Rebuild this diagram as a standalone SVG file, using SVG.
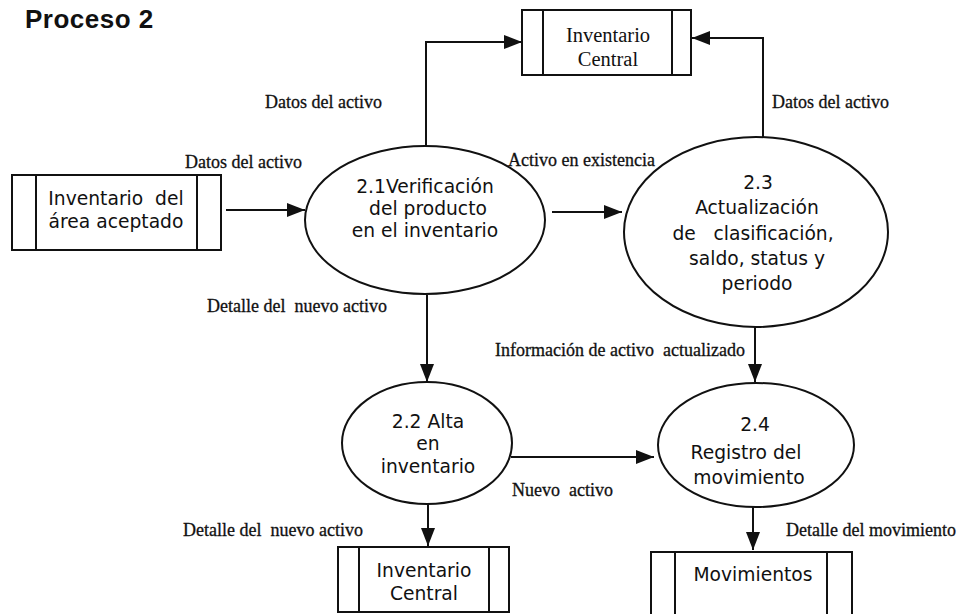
<svg xmlns="http://www.w3.org/2000/svg" width="962" height="614" viewBox="0 0 962 614">
<style>
.shape{fill:none;stroke:#111;stroke-width:2}
.conn{fill:none;stroke:#111;stroke-width:2}
.lbl{font-family:"Liberation Serif","Times New Roman",serif;font-size:18px;fill:#111;stroke:#111;stroke-width:0.3}
.node{font-family:"DejaVu Sans","Open Sans",sans-serif;font-size:18.7px;fill:#111;text-anchor:middle}
.store{font-family:"Liberation Serif","Times New Roman",serif;font-size:20.5px;fill:#111;text-anchor:middle}
.title{font-family:"Liberation Sans",Arial,sans-serif;font-size:26px;font-weight:bold;fill:#111}
</style>
<defs>
<marker id="ah" markerUnits="userSpaceOnUse" markerWidth="18" markerHeight="14" refX="18" refY="7" orient="auto">
<path d="M0,0 L18,7 L0,14 z" fill="#111"/>
</marker>
</defs>
<rect width="962" height="614" fill="#fff"/>
<text class="title" x="25" y="28" letter-spacing="0.5">Proceso 2</text>

<g id="store-top">
<rect class="shape" x="522" y="10" width="169" height="65"/>
<line class="shape" x1="543" y1="10" x2="543" y2="75"/>
<line class="shape" x1="672" y1="10" x2="672" y2="75"/>
<text class="store" x="608" y="42">Inventario</text>
<text class="store" x="608" y="66">Central</text>
</g>

<g id="store-left">
<rect class="shape" x="12" y="175" width="209" height="75"/>
<line class="shape" x1="36" y1="175" x2="36" y2="250"/>
<line class="shape" x1="197" y1="175" x2="197" y2="250"/>
<text class="node" x="116" y="205" font-size="19" xml:space="preserve">Inventario  del</text>
<text class="node" x="116" y="228" font-size="19">área aceptado</text>
</g>

<g id="p21">
<ellipse class="shape" cx="425" cy="220" rx="120" ry="74"/>
<text class="node" x="425" y="193">2.1Verificación</text>
<text class="node" x="428" y="215">del producto</text>
<text class="node" x="425" y="237">en el inventario</text>
</g>

<g id="p23">
<ellipse class="shape" cx="756" cy="232" rx="132" ry="95"/>
<text class="node" x="758" y="189" font-size="19">2.3</text>
<text class="node" x="757" y="214" font-size="19">Actualización</text>
<text class="node" x="753" y="240" font-size="19" xml:space="preserve">de   clasificación,</text>
<text class="node" x="757" y="265" font-size="19">saldo, status y</text>
<text class="node" x="757" y="290" font-size="19">periodo</text>
</g>

<g id="p22">
<ellipse class="shape" cx="427" cy="443" rx="85" ry="61"/>
<text class="node" x="428" y="428" font-size="18">2.2 Alta</text>
<text class="node" x="428" y="450" font-size="18">en</text>
<text class="node" x="428" y="473" font-size="18">inventario</text>
</g>

<g id="p24">
<ellipse class="shape" cx="756" cy="445" rx="98" ry="62"/>
<text class="node" x="755" y="431" font-size="20.5">2.4</text>
<text class="node" x="746" y="459" font-size="20.5">Registro del</text>
<text class="node" x="749" y="484" font-size="20.5">movimiento</text>
</g>

<g id="store-bottom">
<rect class="shape" x="338" y="547" width="171" height="65"/>
<line class="shape" x1="359" y1="547" x2="359" y2="612"/>
<line class="shape" x1="489" y1="547" x2="489" y2="612"/>
<text class="node" x="424" y="577" font-size="18.5">Inventario</text>
<text class="node" x="424" y="600" font-size="18.5">Central</text>
</g>

<g id="store-mov">
<rect class="shape" x="651" y="552" width="201" height="80"/>
<line class="shape" x1="675" y1="552" x2="675" y2="632"/>
<line class="shape" x1="827" y1="552" x2="827" y2="632"/>
<text class="node" x="753" y="581" font-size="21.5">Movimientos</text>
</g>

<g id="connectors">
<path class="conn" d="M426,146 V42 H522" marker-end="url(#ah)"/>
<path class="conn" d="M763,137 V38 H692" marker-end="url(#ah)"/>
<path class="conn" d="M226,210 H305" marker-end="url(#ah)"/>
<path class="conn" d="M552,212 H622" marker-end="url(#ah)"/>
<path class="conn" d="M427,295 V382" marker-end="url(#ah)"/>
<path class="conn" d="M755,327 V382" marker-end="url(#ah)"/>
<path class="conn" d="M511,457 H654" marker-end="url(#ah)"/>
<path class="conn" d="M428,504 V546" marker-end="url(#ah)"/>
<path class="conn" d="M753,507 V550" marker-end="url(#ah)"/>
<text class="lbl" x="265" y="108">Datos del activo</text>
<text class="lbl" x="772" y="108">Datos del activo</text>
<text class="lbl" x="185" y="168">Datos del activo</text>
<text class="lbl" x="508" y="166">Activo en existencia</text>
<text class="lbl" x="207" y="312" xml:space="preserve">Detalle del  nuevo activo</text>
<text class="lbl" x="495" y="356" xml:space="preserve">Información de activo  actualizado</text>
<text class="lbl" x="512" y="496" xml:space="preserve">Nuevo  activo</text>
<text class="lbl" x="183" y="536" xml:space="preserve">Detalle del  nuevo activo</text>
<text class="lbl" x="786" y="536">Detalle del movimiento</text>
</g>
</svg>
